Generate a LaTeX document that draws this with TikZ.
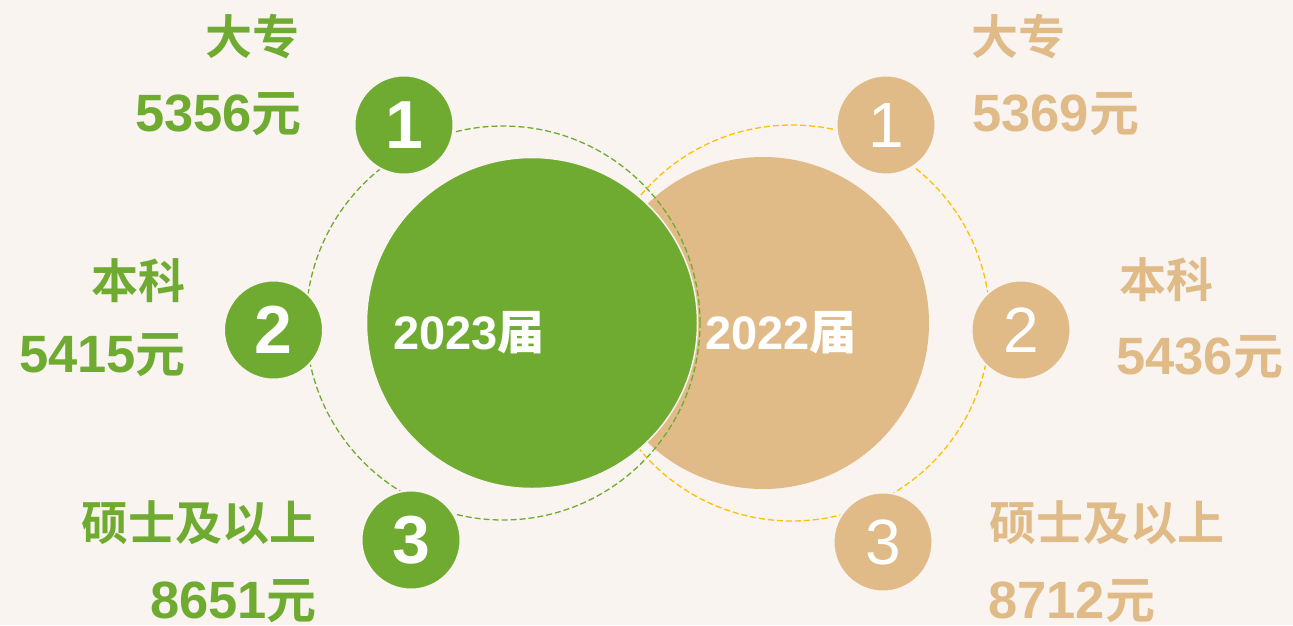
\documentclass[tikz,border=0pt]{standalone}
\usepackage{fontspec}
\setmainfont{Liberation Sans}
\newfontfamily\cjkb{Noto Sans CJK SC Bold}
\definecolor{bg}{RGB}{249,244,240}
\definecolor{grn}{RGB}{111,171,48}
\definecolor{tan}{RGB}{224,187,136}
\definecolor{ylw}{RGB}{255,192,0}
\newcommand\lab[1]{\fontsize{47}{50}\selectfont\cjkb #1}
\newcommand\val[1]{{\fontsize{52.5}{55}\selectfont\bfseries #1}{\fontsize{50}{52}\selectfont\cjkb 元}}
\tikzset{
  bigc/.style={circle,inner sep=0pt,minimum size=332pt},
  smallg/.style={circle,fill=grn,draw=bg,line width=2pt,inner sep=0pt,minimum size=99pt,text=white,font=\fontsize{68}{70}\selectfont\bfseries},
  smallt/.style={circle,fill=tan,draw=bg,line width=2pt,inner sep=0pt,minimum size=99pt,text=white,font=\fontsize{64}{66}\selectfont},
  dashring/.style={circle,inner sep=0pt,line width=1.3pt,dash pattern=on 6pt off 3pt},
  lg/.style={inner sep=0pt,text=grn,anchor=base east},
  lt/.style={inner sep=0pt,text=tan,anchor=base west},
  yr/.style={inner sep=0pt,text=white,anchor=base,font=\fontsize{47}{50}\selectfont\bfseries}
}
\begin{document}
\begin{tikzpicture}[x=1pt,y=-1pt]
\fill[bg] (0,0) rectangle (1293,625);
\useasboundingbox (0,0) rectangle (1293,625);
% big tan circle
\node[bigc,fill=tan] (tanbig) at (763,323) {};
% dashed rings
\node[dashring,draw=grn,minimum size=394pt] (gring) at (503,323) {};
\node[dashring,draw=ylw,minimum size=396pt] (yring) at (792,323) {};
% big green circle
\node[bigc,fill=grn,draw=bg,line width=1.5pt,minimum size=331pt] (grnbig) at (532,323) {};
% year labels
\node[yr] (y23) at (469,349) {2023{\cjkb 届}};
\node[yr] (y22) at (781,349) {2022{\cjkb 届}};
% small circles
\node[smallg] (g1) at (404,125) {1};
\node[smallg] (g2) at (273.5,330) {2};
\node[smallg] (g3) at (411,540) {3};
\node[smallt] (t1) at (886,125) {1};
\node[smallt] (t2) at (1021,330) {2};
\node[smallt] (t3) at (883,542) {3};
% left labels
\node[lg] (gl1) at (300,54) {\lab{大专}};
\node[lg] (gv1) at (302,131) {\val{5356}};
\node[lg] (gl2) at (186,298) {\lab{本科}};
\node[lg] (gv2) at (186,372) {\val{5415}};
\node[lg] (gl3) at (317,540) {\lab{硕士及以上}};
\node[lg] (gv3) at (317,618) {\val{8651}};
% right labels
\node[lt] (tl1) at (971,54) {\lab{大专}};
\node[lt] (tv1) at (972,131) {\val{5369}};
\node[lt] (tl2) at (1119,297) {\lab{本科}};
\node[lt] (tv2) at (1116,374) {\val{5436}};
\node[lt] (tl3) at (989,540) {\lab{硕士及以上}};
\node[lt] (tv3) at (988,618) {\val{8712}};
\end{tikzpicture}
\end{document}
